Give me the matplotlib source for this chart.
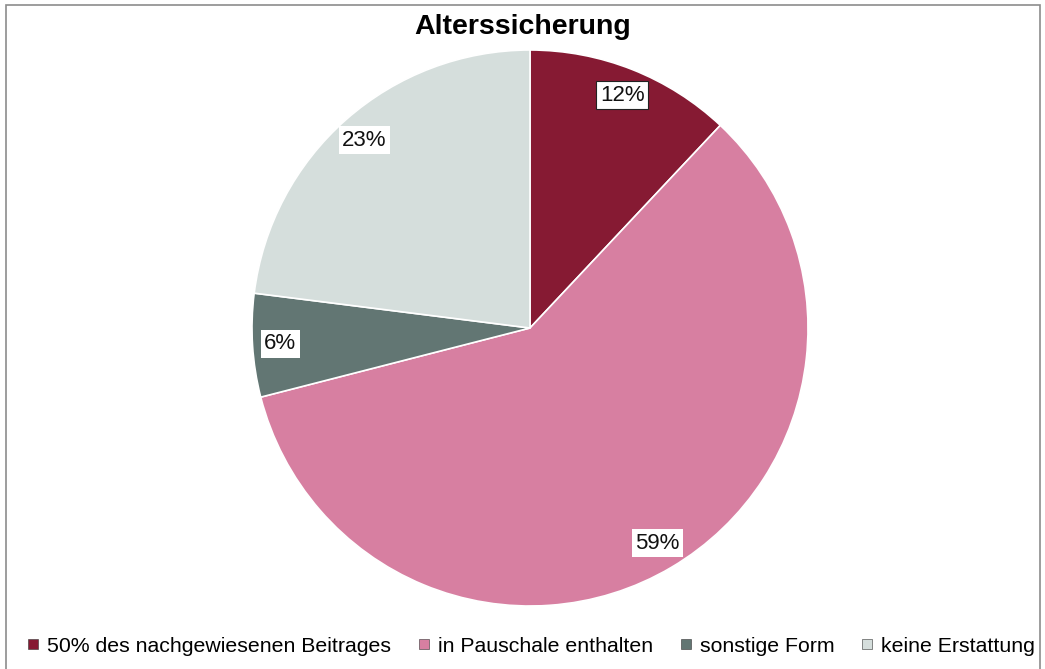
import matplotlib.pyplot as plt
from matplotlib.lines import Line2D
from matplotlib.patches import Rectangle

plt.rcParams['font.family'] = ['Liberation Sans', 'DejaVu Sans']

title = "Alterssicherung"
categories = ["50% des nachgewiesenen Beitrages", "in Pauschale enthalten",
              "sonstige Form", "keine Erstattung"]
shares = [12, 59, 6, 23]
colors = ["#861a33", "#d77fa1", "#627673", "#d5dedc"]

W, H = 1045, 669
fig = plt.figure(figsize=(W / 100, H / 100), dpi=100)

# frame around the whole chart area
fig.patches.append(Rectangle((6 / W, -0.01), (1040 - 6) / W, 1.01 - 5 / H,
                             transform=fig.transFigure, fill=False,
                             edgecolor="#8c8c8c", linewidth=1.2))

cx, cy, r = 530, 328, 278
ax = fig.add_axes([(cx - r) / W, (H - cy - r) / H, 2 * r / W, 2 * r / H])
wedges, texts, autotexts = ax.pie(
    shares, colors=colors, startangle=90, counterclock=False,
    autopct=lambda p: f"{p:.0f}%", pctdistance=0.9,
    wedgeprops=dict(edgecolor="white", linewidth=1.2),
    textprops=dict(fontsize=16, color="#111111"))
for t in autotexts:
    t.set_bbox(dict(facecolor="white", edgecolor="none", pad=2.5))
autotexts[0].get_bbox_patch().set_edgecolor("#222222")
autotexts[0].get_bbox_patch().set_linewidth(0.8)
ax.set_xlim(-1, 1)
ax.set_ylim(-1, 1)
ax.set_aspect("equal")
ax.axis("off")

fig.text(0.5, 1 - 27 / H, title, ha="center", va="center",
         fontsize=20.5, fontweight="bold")

handles = [Line2D([], [], marker="s", linestyle="none", markersize=7.5,
                  markerfacecolor=c, markeredgecolor="#333333",
                  markeredgewidth=0.4) for c in colors]
fig.legend(handles, categories, loc="center", bbox_to_anchor=(531 / W, 1 - 646 / H),
           ncol=4, frameon=False, fontsize=15.3, handlelength=0.6,
           handletextpad=0.35, columnspacing=1.25, borderaxespad=0)

fig.savefig("out.png", dpi=100, facecolor="white")
